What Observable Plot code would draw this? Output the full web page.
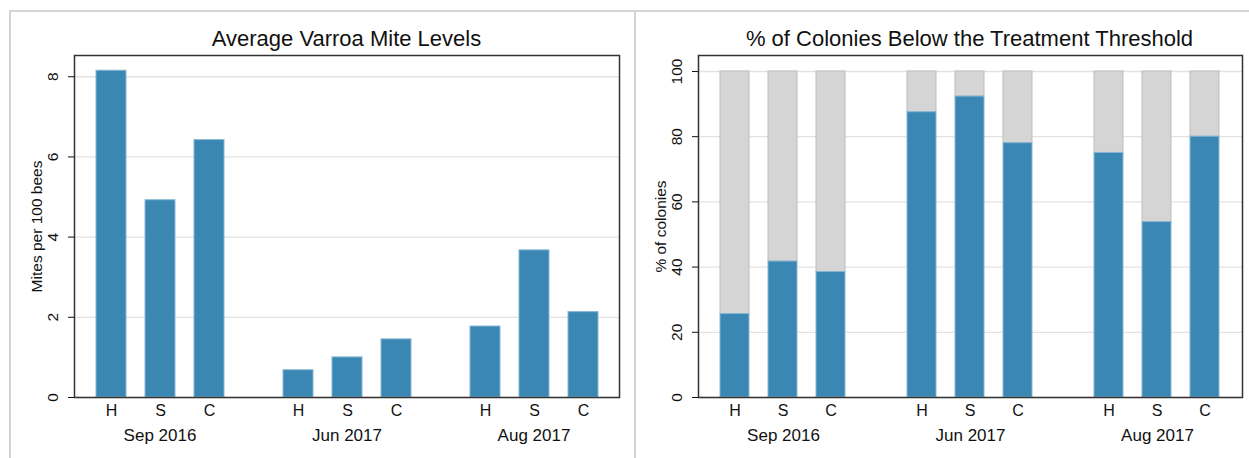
<!DOCTYPE html>
<html><head><meta charset="utf-8">
<script src="https://cdn.jsdelivr.net/npm/d3@7"></script>
<script src="https://cdn.jsdelivr.net/npm/@observablehq/plot@0.6"></script>
<style>
body{margin:0;background:#fff;width:1249px;height:458px;overflow:hidden;position:relative;font-family:"Liberation Sans",Arial,Helvetica,sans-serif;}
.panel{position:absolute;top:10px;height:520px;border:2px solid #d4d4d4;box-sizing:border-box;}
.title{position:absolute;top:26px;font-size:22px;line-height:25px;color:#111;text-align:center;white-space:nowrap;}
.chart{position:absolute;top:50px;height:400px;}
.chart svg{position:absolute;left:0;top:0;max-width:none !important;}
</style></head>
<body>
<div class="panel" style="left:9px;width:627px"></div>
<div class="panel" style="left:634px;width:700px"></div>
<div class="title" style="left:73px;width:547px">Average Varroa Mite Levels</div>
<div class="title" style="left:697px;width:545px">% of Colonies Below the Treatment Threshold</div>
<div class="chart" id="c1" style="left:0px;width:630px"></div>
<div class="chart" id="c2" style="left:636px;width:613px"></div>
<script>
const periods = ["Sep 2016", "Jun 2017", "Aug 2017"];
const groups = ["H", "S", "C"];
const miteLevels = [8.15, 4.92, 6.42, 0.68, 1.00, 1.45, 1.77, 3.67, 2.13];
const pctBelow = [25.6, 41.7, 38.5, 87.5, 92.3, 78.0, 75.0, 53.8, 80.0];
const miteTicks = [0, 2, 4, 6, 8];
const pctTicks = [0, 20, 40, 60, 80, 100];

const blue = "#3a87b3";
const blueEdge = "#86b5d3";
const grey = "#d5d5d5";
const greyEdge = "#bdbdbd";
const font = '"Liberation Sans", Arial, Helvetica, sans-serif';

const toRows = (vals) => vals.map((v, i) => ({period: periods[Math.floor(i / 3)], group: groups[i % 3], value: v}));
const miteRows = toRows(miteLevels);
const pctRows = toRows(pctBelow);

function chart(el, {width, marginLeft, marginRight, fxPad, yDomain, ticks, yLabel, bars}) {
  const dims = {width, height: 400, marginLeft, marginRight, marginTop: 5, marginBottom: 53};
  const style = {fontFamily: font, background: "transparent", color: "#111", overflow: "visible", maxWidth: "none"};
  // background layer: gridlines spanning the whole plot area
  const grid = Plot.plot({
    ...dims, style,
    x: {axis: null},
    y: {domain: yDomain, axis: null},
    marks: [Plot.gridY(ticks, {stroke: "#e2e2e2", strokeOpacity: 1, strokeWidth: 1.3})]
  });
  // foreground layer: faceted bars, axes, frame
  const fg = Plot.plot({
    ...dims, style,
    fx: {domain: periods, paddingInner: fxPad, paddingOuter: 0, label: null},
    x: {domain: groups, paddingInner: 0.394, paddingOuter: 0.434, label: null},
    y: {domain: yDomain, label: yLabel},
    marks: [
      ...bars,
      Plot.axisX({tickSize: 0, tickPadding: 7, fontSize: 16, label: null}),
      Plot.axisFx({anchor: "bottom", tickSize: 0, tickPadding: 31, fontSize: 17, label: null}),
      Plot.axisY(ticks, {tickSize: 6, tickRotate: -90, tickPadding: 11, fontSize: 15.5, label: yLabel, labelAnchor: "center", labelArrow: "none", labelOffset: 44, labelFontSize: 15.5}),
      Plot.frame({facet: "super", stroke: "#333", strokeWidth: 1.5})
    ]
  });
  el.append(grid, fg);
}

chart(document.getElementById("c1"), {
  width: 630, marginLeft: 73, marginRight: 10, fxPad: 0.083,
  yDomain: [0, 8.53], ticks: miteTicks, yLabel: "Mites per 100 bees",
  bars: [Plot.barY(miteRows, {fx: "period", x: "group", y: "value", fill: blue, stroke: blueEdge, strokeWidth: 1})]
});

chart(document.getElementById("c2"), {
  width: 613, marginLeft: 61, marginRight: 7, fxPad: 0.093,
  yDomain: [0, 104.9], ticks: pctTicks, yLabel: "% of colonies",
  bars: [
    Plot.barY(pctRows, {fx: "period", x: "group", y1: "value", y2: 100, fill: grey, stroke: greyEdge, strokeWidth: 1}),
    Plot.barY(pctRows, {fx: "period", x: "group", y: "value", fill: blue, stroke: blueEdge, strokeWidth: 1})
  ]
});
</script>
</body></html>
